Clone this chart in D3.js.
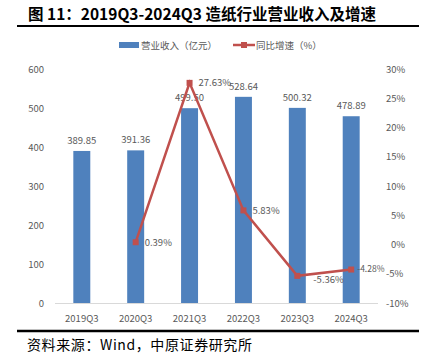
<!DOCTYPE html>
<html>
<head>
<meta charset="utf-8">
<script src="https://cdn.jsdelivr.net/npm/d3@7"></script>
<style>
  body { margin: 0; background: #fff; }
  svg text { font-family: "Noto Sans CJK SC", "DejaVu Sans", sans-serif; }
</style>
</head>
<body>
<div id="chart"></div>
<script>
// chart data
const categories = ["2019Q3", "2020Q3", "2021Q3", "2022Q3", "2023Q3", "2024Q3"];
const revenue = [389.85, 391.36, 499.50, 528.64, 500.32, 478.89];
// growth starts at 2020Q3
const growth = [null, 0.39, 27.63, 5.83, -5.36, -4.28];
const leftTicks = [0, 100, 200, 300, 400, 500, 600];
const rightTicks = [-10, -5, 0, 5, 10, 15, 20, 25, 30];

const width = 426;
const height = 362;
const barColor = "#4f81bd";
const lineColor = "#c0504d";
const grey = "#595959";

const svg = d3.select("#chart")
  .append("svg")
  .attr("width", width)
  .attr("height", height);

// title + rules
svg.append("text")
  .attr("x", 28)
  .attr("y", 20)
  .attr("font-size", 15.5)
  .attr("font-weight", "bold")
  .attr("fill", "#000")
  .text("图 11：2019Q3-2024Q3 造纸行业营业收入及增速");

svg.append("line")
  .attr("x1", 17).attr("x2", 419)
  .attr("y1", 26).attr("y2", 26)
  .attr("stroke", "#000").attr("stroke-width", 2);

svg.append("line")
  .attr("x1", 17).attr("x2", 419)
  .attr("y1", 331).attr("y2", 331)
  .attr("stroke", "#000").attr("stroke-width", 2.5);

svg.append("text")
  .attr("x", 27)
  .attr("y", 350)
  .attr("font-size", 14)
  .attr("letter-spacing", 0.6)
  .attr("fill", "#000")
  .text("资料来源：Wind，中原证券研究所");

// scales
const x = d3.scaleBand()
  .domain(categories)
  .range([55, 378])
  .paddingInner(0.685)
  .paddingOuter(0.34);

const yL = d3.scaleLinear().domain([0, 600]).range([303, 69]);
const yR = d3.scaleLinear().domain([-10, 30]).range([303, 69]);

// left axis labels
svg.append("g")
  .selectAll("text")
  .data(leftTicks)
  .enter()
  .append("text")
  .attr("x", 44)
  .attr("y", d => yL(d) + 3.5)
  .attr("text-anchor", "end")
  .attr("font-size", 9.5)
  .attr("fill", grey)
  .text(d => d);

// right axis labels
svg.append("g")
  .selectAll("text")
  .data(rightTicks)
  .enter()
  .append("text")
  .attr("x", d => d < 0 ? 386 : (Math.abs(d) < 10 ? 391 : 386))
  .attr("y", d => yR(d) + 3.5)
  .attr("text-anchor", "start")
  .attr("font-size", 9.5)
  .attr("fill", grey)
  .text(d => d + "%");

// baseline
svg.append("line")
  .attr("x1", 55).attr("x2", 378)
  .attr("y1", yL(0) + 0.5).attr("y2", yL(0) + 0.5)
  .attr("stroke", "#d9d9d9");

// category labels
svg.append("g")
  .selectAll("text")
  .data(categories)
  .enter()
  .append("text")
  .attr("x", d => x(d) + x.bandwidth() / 2)
  .attr("y", 322)
  .attr("text-anchor", "middle")
  .attr("font-size", 9.5)
  .attr("fill", grey)
  .text(d => d);

// bars
svg.append("g")
  .selectAll("rect")
  .data(revenue)
  .enter()
  .append("rect")
  .attr("x", (d, i) => x(categories[i]))
  .attr("y", d => yL(d))
  .attr("width", x.bandwidth())
  .attr("height", d => yL(0) - yL(d))
  .attr("fill", barColor);

// bar labels
svg.append("g")
  .selectAll("text")
  .data(revenue)
  .enter()
  .append("text")
  .attr("x", (d, i) => x(categories[i]) + x.bandwidth() / 2)
  .attr("y", d => yL(d) - 7)
  .attr("text-anchor", "middle")
  .attr("font-size", 9.5)
  .attr("fill", grey)
  .text(d => d.toFixed(2));

// growth line
const pts = growth
  .map((g, i) => ({ cat: categories[i], g: g }))
  .filter(p => p.g !== null);

const line = d3.line()
  .x(p => x(p.cat) + x.bandwidth() / 2)
  .y(p => yR(p.g));

svg.append("path")
  .datum(pts)
  .attr("d", line)
  .attr("fill", "none")
  .attr("stroke", lineColor)
  .attr("stroke-width", 2.5);

svg.append("g")
  .selectAll("rect")
  .data(pts)
  .enter()
  .append("rect")
  .attr("x", p => x(p.cat) + x.bandwidth() / 2 - 3)
  .attr("y", p => yR(p.g) - 3)
  .attr("width", 6)
  .attr("height", 6)
  .attr("fill", lineColor);

// line labels (last one squeezed a bit so it clears the -5% tick)
svg.append("g")
  .selectAll("text")
  .data(pts)
  .enter()
  .append("text")
  .attr("x", p => x(p.cat) + x.bandwidth() / 2 + (p.g === -5.36 ? 16 : (p.g === -4.28 ? 6 : 9)))
  .attr("y", p => yR(p.g) + (p.g === -5.36 ? 7.5 : (p.g === -4.28 ? 2.5 : 3.5)))
  .attr("font-size", p => p.g === -4.28 ? 8.5 : 9.5)
  .attr("fill", grey)
  .text(p => p.g.toFixed(2) + "%");

// legend
const legend = svg.append("g");
legend.append("rect")
  .attr("x", 119).attr("y", 42)
  .attr("width", 20).attr("height", 6)
  .attr("fill", barColor);
legend.append("text")
  .attr("x", 141).attr("y", 49)
  .attr("font-size", 9.5)
  .attr("fill", grey)
  .text("营业收入（亿元）");
legend.append("line")
  .attr("x1", 233).attr("x2", 255)
  .attr("y1", 45).attr("y2", 45)
  .attr("stroke", lineColor).attr("stroke-width", 2.5);
legend.append("rect")
  .attr("x", 241).attr("y", 42)
  .attr("width", 6).attr("height", 6)
  .attr("fill", lineColor);
legend.append("text")
  .attr("x", 256).attr("y", 49)
  .attr("font-size", 9.5)
  .attr("fill", grey)
  .text("同比增速（%）");
</script>
</body>
</html>
